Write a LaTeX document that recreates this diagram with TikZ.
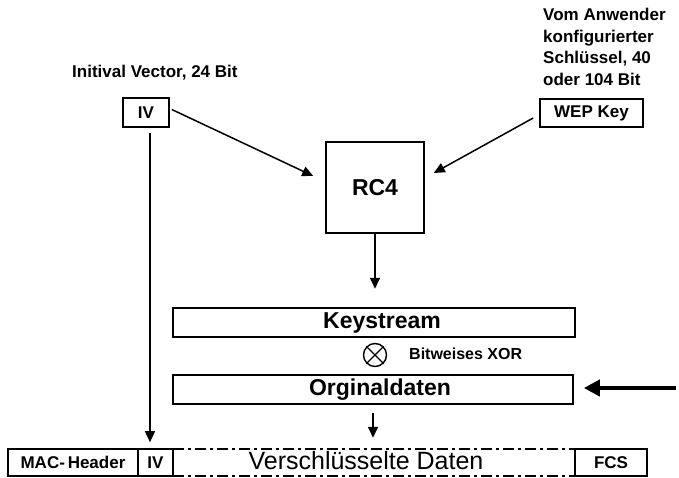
\documentclass[tikz,border=0pt]{standalone}
\usepackage{fontspec}
\setmainfont{Liberation Sans}
\usetikzlibrary{arrows.meta,calc}

\tikzset{
  box/.style={draw, line width=1.6pt, inner sep=0pt, font=\bfseries\fontsize{17}{20}\selectfont},
  bigbox/.style={box, font=\bfseries\fontsize{23}{26}\selectfont},
  flow/.style={line width=1.5pt, -{Triangle[length=11pt,width=10pt]}},
  heavy/.style={line width=4pt, -{Triangle[length=16pt,width=16pt]}},
  caption/.style={inner sep=0pt, font=\bfseries\fontsize{17}{21.5}\selectfont, align=left},
  dashdot/.style={line width=1.5pt, dash pattern=on 11pt off 4pt on 3pt off 4pt},
}

\begin{document}
\begin{tikzpicture}[x=1pt, y=-1pt]
  \useasboundingbox[fill=white] (0,0) rectangle (679,478);

  % captions
  \node[caption, anchor=base west] (ivcap) at (72,78) {Initival Vector, 24 Bit};
  \node[caption, anchor=north west] (keycap) at (543,8)
    {Vom Anwender\\konfigurierter\\Schlüssel, 40\\oder 104 Bit};

  % inputs and cipher
  \node[box, minimum width=46pt, minimum height=29pt] (ivtop) at (146,112.5) {IV};
  \node[box, minimum width=103pt, minimum height=28pt] (wep) at (591.5,113) {WEP Key};
  \node[box, minimum width=98pt, minimum height=91pt,
        font=\bfseries\fontsize{23}{26}\selectfont] (rc4) at (375,187.5) {RC4};

  % keystream, xor, plaintext
  \node[bigbox, minimum width=402pt, minimum height=29pt] (keystream) at (374,322.5) {\hspace*{16pt}Keystream};
  \node[draw, circle, line width=1.4pt, minimum size=23pt, inner sep=0pt] (xor) at (375,355) {};
  \draw[line width=1.4pt] (xor.north west) -- (xor.south east)
                          (xor.north east) -- (xor.south west);
  \node[inner sep=0pt, anchor=base west, font=\bfseries\fontsize{16}{18}\selectfont] (xorcap) at (409,359) {Bitweises XOR};
  \node[bigbox, minimum width=400pt, minimum height=29pt] (orig) at (373,389.5) {\hspace*{14pt}Orginaldaten};
  \coordinate (feed) at (676,388);

  % frame
  \node[box, minimum width=130pt, minimum height=27pt] (mac) at (73,462.5) {MAC-\,Header};
  \node[box, minimum width=35pt, minimum height=27pt] (ivlow) at (155.5,462.5) {IV};
  \node[inner sep=0pt, minimum width=402pt, minimum height=27pt] (data) at (374,462.5) {};
  \node[inner sep=0pt, font=\fontsize{25}{28}\selectfont] (datatext) at (366,461) {Verschlüsselte Daten};
  \node[box, minimum width=72pt, minimum height=27pt] (fcs) at (611,462.5) {FCS};
  \draw[dashdot] (data.north west) -- (data.north east)
                 (data.south west) -- (data.south east);

  % connectors
  \draw[flow] ($(ivtop.east)+(2,-3)$) -- ($(rc4.west)+(-12,-11.5)$);
  \draw[flow] ($(wep.west)+(-6,5)$) -- ($(rc4.east)+(9,-14.5)$);
  \draw[flow] ($(ivtop.south)+(4,5)$) -- ($(ivlow.north)+(-5.5,-6)$);
  \draw[flow] (rc4.south) -- ++(0,55);
  \draw[flow] ($(orig.south)+(0,8)$) -- ($(data.north)+(-1,-11)$);
  \draw[heavy] (feed) -- ($(orig.east)+(10,-1.5)$);
\end{tikzpicture}
\end{document}
